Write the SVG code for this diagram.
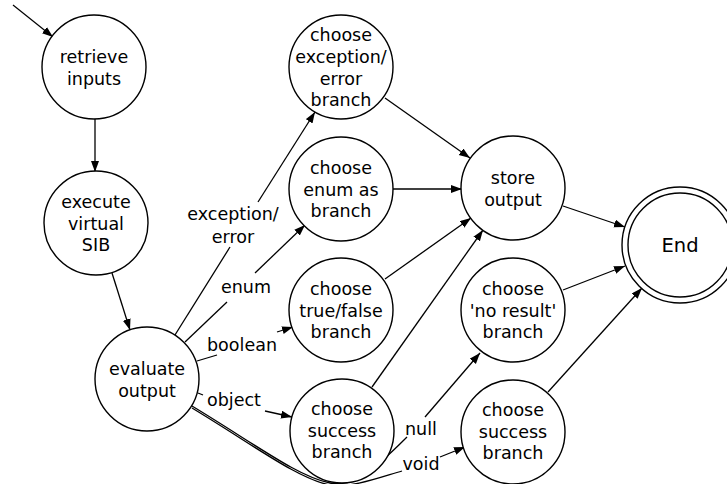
<svg xmlns="http://www.w3.org/2000/svg" width="727" height="484" viewBox="0 0 727 484">
<defs>
<marker id="ah" markerUnits="userSpaceOnUse" markerWidth="12" markerHeight="9" refX="11" refY="4" orient="auto">
<path d="M0,0 L11,4 L0,8 z" fill="#000"/>
</marker>
<style>
.n circle{fill:#fff;stroke:#000;stroke-width:1.4}
text{font-family:"DejaVu Sans",sans-serif;font-size:17.5px;fill:#000;text-anchor:middle}
.e path{fill:none;stroke:#000;stroke-width:1.3}
.a{marker-end:url(#ah)}
</style>
</defs>
<rect width="727" height="484" fill="#fff"/>
<g id="connectors" class="e">
<path class="a" d="M13,5 L53,37"/>
<path class="a" d="M95,119 L95,172"/>
<path class="a" d="M112,273 L130,330"/>
<path d="M175,335 L230,247"/>
<path class="a" d="M258,202 L315,112"/>
<path d="M185,342 L227,302"/>
<path class="a" d="M255,273 L305,225"/>
<path d="M197,361 L217,355"/>
<path class="a" d="M277,332 L293,327"/>
<path d="M198,393 L203,395"/>
<path class="a" d="M265,411 L292,417"/>
<path d="M192,406 C255,444 298,477 330,483 C352,487 368,476 407,437"/>
<path class="a" d="M425,417 L480,353"/>
<path d="M192,408 C255,446 298,479 330,485 C352,488 378,478 402,471"/>
<path class="a" d="M440,457 L465,447"/>
<path class="a" d="M385,98 L470,158"/>
<path class="a" d="M393,189 L462,189"/>
<path class="a" d="M385,279 L471,218"/>
<path class="a" d="M372,387 L483,230"/>
<path class="a" d="M563,206 L625,227"/>
<path class="a" d="M563,290 L625,266"/>
<path class="a" d="M548,392 L642,288"/>
</g>
<g id="labels">
<text x="233" y="220">exception/</text>
<text x="233" y="243">error</text>
<text x="246" y="293">enum</text>
<text x="242" y="351">boolean</text>
<text x="234" y="406">object</text>
<text x="421" y="435">null</text>
<text x="421" y="470">void</text>
</g>
<g id="retrieve" class="n"><circle cx="94" cy="67" r="52"/><text x="94" y="63">retrieve</text><text x="94" y="85">inputs</text></g>
<g id="execute" class="n"><circle cx="96" cy="223" r="52"/><text x="96" y="208">execute</text><text x="96" y="230">virtual</text><text x="96" y="251">SIB</text></g>
<g id="evaluate" class="n"><circle cx="147" cy="379" r="52"/><text x="147" y="375">evaluate</text><text x="147" y="397">output</text></g>
<g id="exception" class="n"><circle cx="341" cy="67" r="52"/><text x="341" y="41">choose</text><text x="341" y="63">exception/</text><text x="341" y="85">error</text><text x="341" y="106">branch</text></g>
<g id="enum" class="n"><circle cx="341" cy="189" r="52"/><text x="341" y="174">choose</text><text x="341" y="196">enum as</text><text x="341" y="217">branch</text></g>
<g id="truefalse" class="n"><circle cx="341" cy="310" r="52"/><text x="341" y="295">choose</text><text x="341" y="317">true/false</text><text x="341" y="338">branch</text></g>
<g id="success1" class="n"><circle cx="342" cy="431" r="52"/><text x="342" y="415">choose</text><text x="342" y="437">success</text><text x="342" y="458">branch</text></g>
<g id="store" class="n"><circle cx="513" cy="188" r="52"/><text x="513" y="184">store</text><text x="513" y="206">output</text></g>
<g id="noresult" class="n"><circle cx="513" cy="310" r="52"/><text x="513" y="295">choose</text><text x="513" y="317">'no result'</text><text x="513" y="338">branch</text></g>
<g id="success2" class="n"><circle cx="513" cy="432" r="52"/><text x="513" y="416">choose</text><text x="513" y="438">success</text><text x="513" y="459">branch</text></g>
<g id="end" class="n"><circle cx="680" cy="245" r="58"/><circle cx="680" cy="245" r="52"/><text x="680" y="252" style="font-size:19.5px">End</text></g>
</svg>
